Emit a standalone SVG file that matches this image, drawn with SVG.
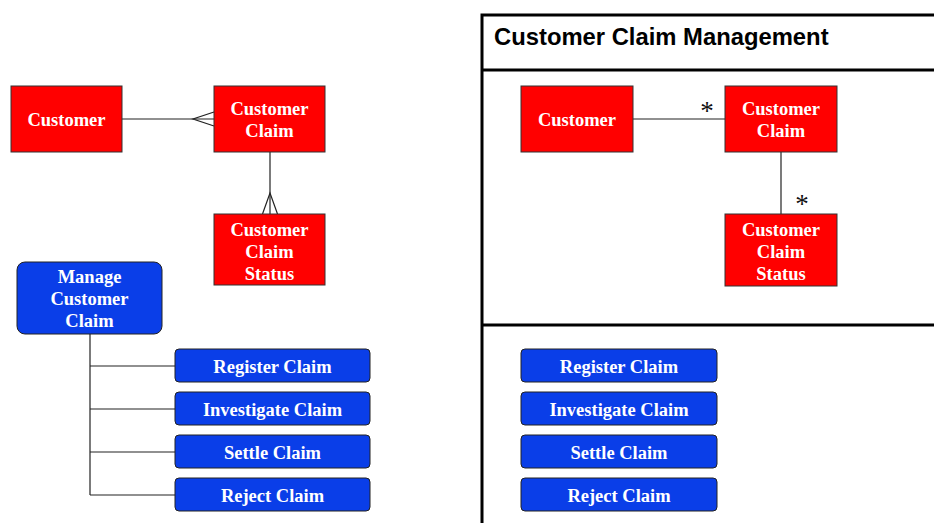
<svg xmlns="http://www.w3.org/2000/svg" width="934" height="523" viewBox="0 0 934 523">
  <style>
    .entity { fill: #ff0000; stroke: #333333; stroke-width: 1; }
    .process { fill: #0a3ee8; stroke: #222222; stroke-width: 1; }
    .label { font-family: "Liberation Serif", "Times New Roman", serif; font-weight: bold; font-size: 18.5px; fill: #ffffff; text-anchor: middle; }
    .link { fill: none; stroke: #222222; stroke-width: 1.2; }
    .frame { fill: none; stroke: #000000; stroke-width: 3; }
    .title { font-family: "Liberation Sans", Arial, sans-serif; font-weight: bold; font-size: 23.8px; fill: #000000; }
    .mult { font-family: "Liberation Serif", "Times New Roman", serif; font-size: 27px; fill: #111111; text-anchor: middle; }
  </style>

  <!-- Left: entity relationship view -->
  <g id="connectors-left">
    <path class="link" d="M122,119 H214"/>
    <path class="link" d="M214,112 L193,119 L214,126"/>
    <path class="link" d="M270,152 V214"/>
    <path class="link" d="M262.5,214 L270,193 L277.5,214"/>
    <!-- hierarchy tree -->
    <path class="link" d="M90,334 V495"/>
    <path class="link" d="M90,366 H175 M90,409 H175 M90,452 H175 M90,495 H175"/>
  </g>

  <g id="customer-l">
    <rect class="entity" x="11" y="86" width="111" height="66"/>
    <text class="label" x="66.5" y="126">Customer</text>
  </g>
  <g id="customer-claim-l">
    <rect class="entity" x="214" y="86" width="111" height="66"/>
    <text class="label" x="269.5" y="115">Customer</text>
    <text class="label" x="269.5" y="137">Claim</text>
  </g>
  <g id="customer-claim-status-l">
    <rect class="entity" x="214" y="214" width="111" height="71"/>
    <text class="label" x="269.5" y="235.5">Customer</text>
    <text class="label" x="269.5" y="257.5">Claim</text>
    <text class="label" x="269.5" y="279.5">Status</text>
  </g>
  <g id="manage-customer-claim">
    <rect class="process" x="17" y="262" width="145" height="72" rx="8" ry="8"/>
    <text class="label" x="89.5" y="283">Manage</text>
    <text class="label" x="89.5" y="305">Customer</text>
    <text class="label" x="89.5" y="327">Claim</text>
  </g>
  <g id="register-claim-l">
    <rect class="process" x="175" y="349" width="195" height="33" rx="4" ry="4"/>
    <text class="label" x="272.5" y="372.5">Register Claim</text>
  </g>
  <g id="investigate-claim-l">
    <rect class="process" x="175" y="392" width="195" height="33" rx="4" ry="4"/>
    <text class="label" x="272.5" y="415.5">Investigate Claim</text>
  </g>
  <g id="settle-claim-l">
    <rect class="process" x="175" y="435" width="195" height="33" rx="4" ry="4"/>
    <text class="label" x="272.5" y="458.5">Settle Claim</text>
  </g>
  <g id="reject-claim-l">
    <rect class="process" x="175" y="478" width="195" height="33" rx="4" ry="4"/>
    <text class="label" x="272.5" y="501.5">Reject Claim</text>
  </g>

  <!-- Right: package frame -->
  <g id="package-frame">
    <path class="frame" d="M482,525 V15 H936"/>
    <path class="frame" d="M482,70 H936"/>
    <path class="frame" d="M482,325 H936"/>
    <text class="title" x="494" y="45">Customer Claim Management</text>
  </g>

  <g id="connectors-right">
    <path class="link" d="M633,119 H725"/>
    <path class="link" d="M781,152 V214"/>
    <text class="mult" x="707" y="120">*</text>
    <text class="mult" x="802" y="213">*</text>
  </g>

  <g id="customer-r">
    <rect class="entity" x="521" y="86" width="112" height="66"/>
    <text class="label" x="577" y="126">Customer</text>
  </g>
  <g id="customer-claim-r">
    <rect class="entity" x="725" y="86" width="112" height="66"/>
    <text class="label" x="781" y="115">Customer</text>
    <text class="label" x="781" y="137">Claim</text>
  </g>
  <g id="customer-claim-status-r">
    <rect class="entity" x="725" y="214" width="112" height="72"/>
    <text class="label" x="781" y="235.5">Customer</text>
    <text class="label" x="781" y="257.5">Claim</text>
    <text class="label" x="781" y="279.5">Status</text>
  </g>
  <g id="register-claim-r">
    <rect class="process" x="521" y="349" width="196" height="33" rx="4" ry="4"/>
    <text class="label" x="619" y="372.5">Register Claim</text>
  </g>
  <g id="investigate-claim-r">
    <rect class="process" x="521" y="392" width="196" height="33" rx="4" ry="4"/>
    <text class="label" x="619" y="415.5">Investigate Claim</text>
  </g>
  <g id="settle-claim-r">
    <rect class="process" x="521" y="435" width="196" height="33" rx="4" ry="4"/>
    <text class="label" x="619" y="458.5">Settle Claim</text>
  </g>
  <g id="reject-claim-r">
    <rect class="process" x="521" y="478" width="196" height="33" rx="4" ry="4"/>
    <text class="label" x="619" y="501.5">Reject Claim</text>
  </g>
</svg>
